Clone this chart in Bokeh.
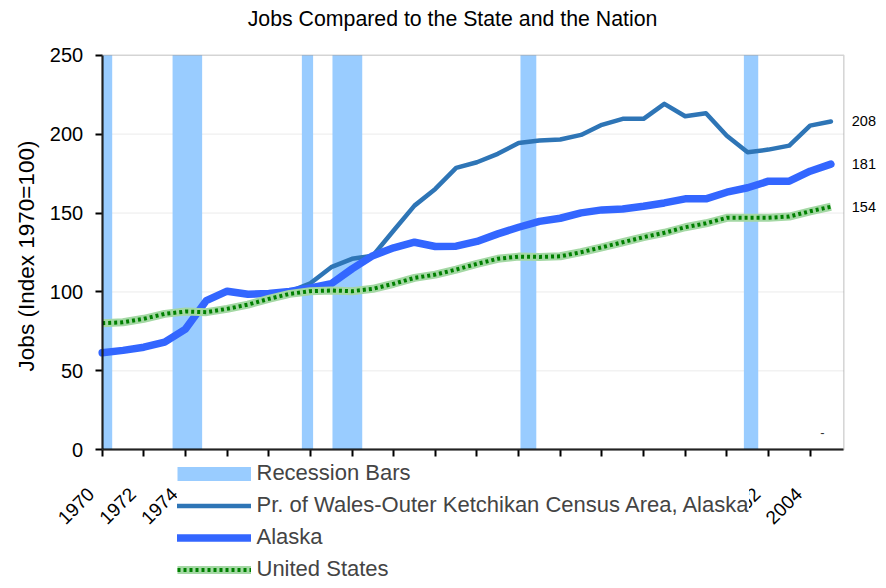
import math
from bokeh.plotting import figure
from bokeh.models import (Range1d, FixedTicker, LinearAxis, Legend, LegendItem,
                          BoxAnnotation, Label)
from bokeh.embed import file_html
from bokeh.resources import INLINE

# ---------------- data ----------------
years = list(range(1970, 2006))
nan = float("nan")

pow_values = [nan, nan, nan, nan, nan, nan, nan, nan, nan, 100.3,
              105.5, 115.7, 121.0, 123.0, 138.9, 154.7, 165.3, 178.6, 182.2, 187.5,
              194.4, 195.9, 196.6, 199.5, 205.9, 209.7, 209.7, 219.2, 211.3, 213.2,
              199.0, 188.5, 190.2, 192.7, 205.4, 208.0]

alaska_values = [61.5, 63.0, 65.0, 68.2, 76.5, 94.5, 100.5, 98.5, 99.0, 100.3,
                 102.6, 105.2, 114.6, 123.0, 128.0, 131.5, 128.8, 129.0, 132.0, 136.8,
                 141.0, 144.7, 146.7, 150.1, 152.0, 152.6, 154.3, 156.4, 159.0, 159.0,
                 163.2, 166.0, 170.2, 170.2, 176.5, 181.0]

us_values = [80.2, 80.8, 83.0, 86.1, 87.6, 87.2, 89.3, 92.0, 95.6, 98.8,
             100.5, 100.9, 100.5, 102.0, 105.2, 108.9, 111.0, 114.2, 117.8, 121.0,
             122.4, 122.2, 122.6, 125.2, 128.3, 131.5, 134.7, 137.5, 141.0, 143.5,
             147.0, 147.0, 147.0, 147.8, 151.1, 154.0]

recession_start = [1970.0, 1973.38, 1979.59, 1981.06, 1990.09, 2000.82]
recession_end = [1970.48, 1974.80, 1980.13, 1982.49, 1990.85, 2001.51]

x_tick_years = list(range(1970, 2005, 2))
y_ticks = [0, 50, 100, 150, 200, 250]
grid_values = [50, 100, 150, 200]
y_min, y_max = 0, 250
first_year = 1970

series_labels = ["Recession Bars",
                 "Pr. of Wales-Outer Ketchikan Census Area, Alaska",
                 "Alaska",
                 "United States"]

title_text = "Jobs Compared to the State and the Nation"
y_label_text = "Jobs (Index 1970=100)"
note_text = "-"

FONT = "Liberation Sans"

# ---------------- layout constants (pixels) ----------------
W, H = 878, 580
X0_PX = 101.7        # canvas x of the first year (plot-area left edge)
XR_PX = 843.3        # canvas x of the plot-area right edge
PPY = 20.82          # pixels per year
ZERO_PX = 449.3      # canvas y of value 0
PPU = 1.5784         # pixels per index unit


def px_x(px):
    return first_year + (px - X0_PX) / PPY


def px_y(py):
    return (ZERO_PX - py) / PPU


x_lo, x_hi = px_x(0), px_x(W)
x_plot_end = px_x(XR_PX)
y_lo, y_hi = px_y(H), px_y(0)

p = figure(width=W, height=H, output_backend="svg", toolbar_location=None,
           x_range=Range1d(x_lo, x_hi), y_range=Range1d(y_lo, y_hi),
           min_border_left=0, min_border_right=0, min_border_top=0,
           min_border_bottom=0)

p.background_fill_color = "white"
p.border_fill_color = "white"
p.outline_line_color = None
p.xgrid.grid_line_color = None
p.ygrid.grid_line_color = None

# horizontal gridlines limited to the plot area
p.segment(x0=first_year, x1=x_plot_end, y0=grid_values, y1=grid_values,
          line_color="#EBEBEB", line_width=1)

# recession bars
rec = p.quad(left=recession_start, right=recession_end, bottom=y_min, top=y_max,
             fill_color="#99CCFF", line_color=None)
rec_legend = p.line(x=[nan], y=[nan], line_width=14, line_color="#99CCFF",
                    line_cap="butt")

# plot-area border
p.add_layout(BoxAnnotation(left=first_year, right=x_plot_end, bottom=y_min, top=y_max,
                           fill_alpha=0, line_color="#707070", line_width=1.5))

pow_r = p.line(years, pow_values, line_width=4.5, line_color="#2E75B6",
               line_join="round", line_cap="round")
ak_r = p.line(years, alaska_values, line_width=7.5, line_color="#3366FF",
              line_join="round", line_cap="round")
us_base = p.line(years, us_values, line_width=8, line_color="#A4D8A4",
                 line_join="round")
us_dash = p.line(years, us_values, line_width=4, line_color="#008000",
                 line_dash="3 3")

# texts
p.add_layout(Label(x=px_x(452), y=px_y(18), text=title_text, text_font=FONT,
                   text_font_size="21.3px", text_align="center",
                   text_baseline="alphabetic", text_color="black"))
p.add_layout(Label(x=px_x(25.8), y=px_y(255.5), text=y_label_text, text_font=FONT,
                   text_font_size="22.5px", text_align="center",
                   text_baseline="middle", angle=math.pi / 2, text_color="black"))
p.add_layout(Label(x=px_x(822), y=px_y(432), text=note_text, text_font=FONT,
                   text_font_size="13px", text_align="center",
                   text_baseline="middle", text_color="#333333"))

# axes
xa = p.xaxis[0]
xa.fixed_location = y_min
xa.bounds = (first_year, x_plot_end)
xa.ticker = FixedTicker(ticks=x_tick_years)
xa.major_label_overrides = {yr: str(yr) + "\u00a0\u00a0\u00a0" for yr in x_tick_years}
xa.major_label_orientation = math.pi / 4
xa.major_label_standoff = 23
xa.major_label_text_font = FONT
xa.major_label_text_font_size = "19px"
xa.major_label_text_color = "black"
xa.major_tick_out = 7
xa.major_tick_in = 0
xa.minor_tick_line_color = None
xa.axis_line_width = 2
xa.axis_line_color = "black"
xa.major_tick_line_width = 2
xa.major_tick_line_color = "black"

ya = p.yaxis[0]
ya.fixed_location = first_year
ya.bounds = (y_min, y_max)
ya.ticker = FixedTicker(ticks=y_ticks)
ya.major_label_text_font = FONT
ya.major_label_text_font_size = "20px"
ya.major_label_text_color = "black"
ya.major_label_standoff = 12
ya.major_tick_out = 7
ya.major_tick_in = 0
ya.minor_tick_line_color = None
ya.axis_line_width = 2
ya.axis_line_color = "black"
ya.major_tick_line_width = 2
ya.major_tick_line_color = "black"

ra = LinearAxis(ticker=FixedTicker(ticks=[pow_values[-1], alaska_values[-1], us_values[-1]]),
                fixed_location=x_plot_end, bounds=(y_min, y_max),
                axis_line_color=None, major_tick_line_color=None,
                minor_tick_line_color=None, major_tick_out=0, minor_tick_out=0,
                major_label_standoff=8,
                major_label_text_font=FONT, major_label_text_font_size="14.5px",
                major_label_text_color="black")
p.add_layout(ra, "right")

legend = Legend(items=[
    LegendItem(label=series_labels[0], renderers=[rec_legend]),
    LegendItem(label=series_labels[1], renderers=[pow_r]),
    LegendItem(label=series_labels[2], renderers=[ak_r]),
    LegendItem(label=series_labels[3], renderers=[us_base, us_dash]),
], location=(176.5, -2), orientation="vertical",
    glyph_width=74, glyph_height=25, label_height=25, label_standoff=6,
    spacing=6, padding=2, margin=0, border_line_color=None,
    background_fill_color="white", background_fill_alpha=1.0,
    label_text_font=FONT, label_text_font_size="22px", label_width=492)
p.add_layout(legend)

open("out.html", "w").write(file_html(p, INLINE))
